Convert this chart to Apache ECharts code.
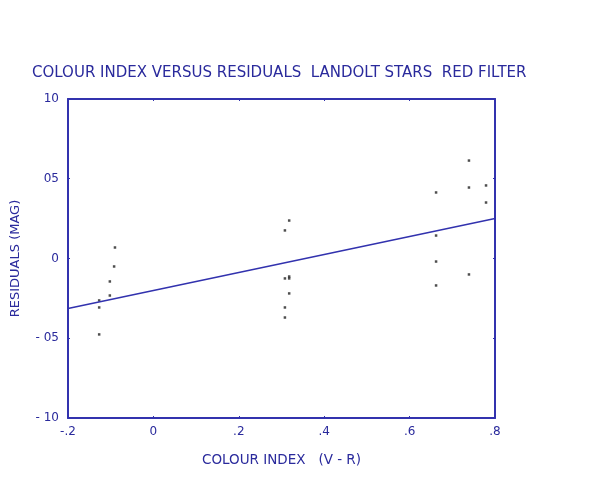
<!DOCTYPE html>
<html>
<head>
<meta charset="utf-8">
<script src="https://cdn.jsdelivr.net/npm/echarts@6/dist/echarts.min.js"></script>
<style>
html,body{margin:0;padding:0;background:#fff;}
#chart{width:600px;height:477px;}
</style>
</head>
<body>
<div id="chart"></div>
<script>
// Data
const starColour = [-0.090, -0.092, -0.102, -0.102, -0.127, -0.127, -0.127,
  0.318, 0.308, 0.318, 0.308, 0.318, 0.318, 0.308, 0.308,
  0.739, 0.779, 0.739, 0.662, 0.779, 0.662, 0.662, 0.739, 0.662];
const starResidual = [0.0069, -0.0050, -0.0144, -0.0232, -0.0263, -0.0307, -0.0476,
  0.0238, 0.0176, -0.0113, -0.0125, -0.0125, -0.0219, -0.0307, -0.0370,
  0.0614, 0.0458, 0.0445, 0.0414, 0.0351, 0.0144, -0.0019, -0.0100, -0.0169];
const fitColour = [-0.2, 0.8];
const fitResidual = [-0.0313, 0.0251];
const xTickLabels = ['-.2', '0', '.2', '.4', '.6', '.8'];
const yTickLabels = ['- 10', '- 05', '0', '05', '10'];

const blue = '#3232ae';
const textBlue = '#2a2a9c';
const font = 'DejaVu Sans, sans-serif';

const chart = echarts.init(document.getElementById('chart'), null, {renderer: 'canvas'});
const xLab = v => xTickLabels[Math.round((v + 0.2) / 0.2)] || '';
const yLab = v => yTickLabels[Math.round((v + 0.1) / 0.05)] || '';

chart.setOption({
  animation: false,
  backgroundColor: '#ffffff',
  title: {
    text: 'COLOUR INDEX VERSUS RESIDUALS  LANDOLT STARS  RED FILTER',
    left: 27, top: 61,
    textStyle: {color: textBlue, fontSize: 15, fontWeight: 'normal', fontFamily: font}
  },
  grid: {left: 68, right: 105, top: 99, bottom: 59, containLabel: false},
  xAxis: [{
    type: 'value', min: -0.2, max: 0.8, interval: 0.2, position: 'bottom',
    name: 'COLOUR INDEX   (V - R)', nameLocation: 'middle', nameGap: 35,
    nameTextStyle: {color: textBlue, fontSize: 13.5, fontFamily: font},
    axisLine: {show: true, onZero: false, lineStyle: {color: blue, width: 2}},
    axisTick: {show: true, inside: true, length: 2, lineStyle: {color: blue}},
    axisLabel: {formatter: xLab, color: textBlue, fontSize: 12, fontFamily: font, margin: 8},
    splitLine: {show: false}
  }, {
    type: 'value', min: -0.2, max: 0.8, interval: 0.2, position: 'top',
    axisLine: {show: true, onZero: false, lineStyle: {color: blue, width: 2}},
    axisTick: {show: true, inside: true, length: 2, lineStyle: {color: blue}},
    axisLabel: {show: false}, splitLine: {show: false}
  }],
  yAxis: [{
    type: 'value', min: -0.1, max: 0.1, interval: 0.05, position: 'left',
    name: 'RESIDUALS (MAG)', nameLocation: 'middle', nameGap: 46, nameRotate: 90,
    nameTextStyle: {color: textBlue, fontSize: 13, fontFamily: font},
    axisLine: {show: true, onZero: false, lineStyle: {color: blue, width: 2}},
    axisTick: {show: true, inside: true, length: 2, lineStyle: {color: blue}},
    axisLabel: {formatter: yLab, color: textBlue, fontSize: 12, fontFamily: font, margin: 9},
    splitLine: {show: false}
  }, {
    type: 'value', min: -0.1, max: 0.1, interval: 0.05, position: 'right',
    axisLine: {show: true, onZero: false, lineStyle: {color: blue, width: 2}},
    axisTick: {show: true, inside: true, length: 2, lineStyle: {color: blue}},
    axisLabel: {show: false}, splitLine: {show: false}
  }],
  series: [{
    type: 'scatter',
    data: starColour.map((x, i) => [x, starResidual[i]]),
    symbol: 'rect', symbolSize: 2.5,
    itemStyle: {color: '#222222'}
  }, {
    type: 'line',
    data: fitColour.map((x, i) => [x, fitResidual[i]]),
    showSymbol: false, symbol: 'none',
    lineStyle: {color: blue, width: 1.5}
  }]
});
</script>
</body>
</html>
